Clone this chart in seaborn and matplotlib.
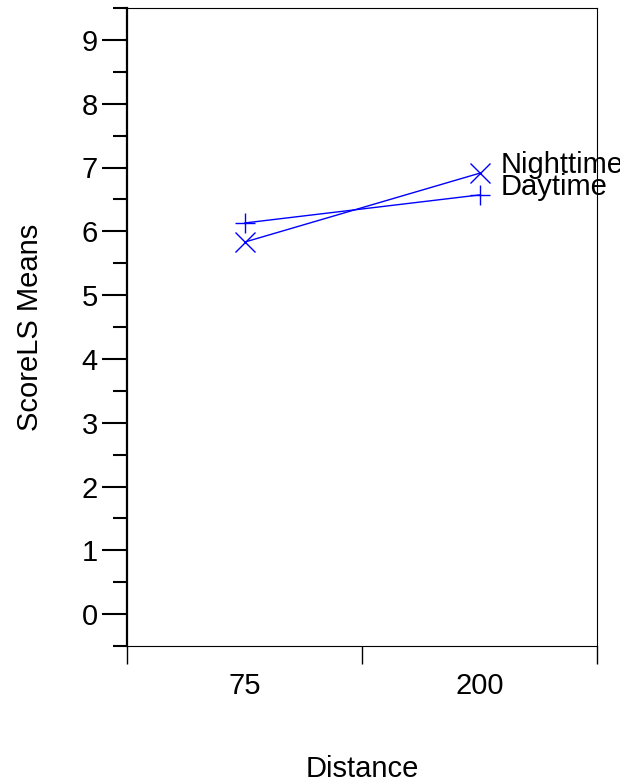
import pandas as pd
import matplotlib
matplotlib.use("Agg")
import matplotlib.pyplot as plt
import seaborn as sns
from matplotlib.ticker import FixedLocator, MultipleLocator

distance = ["75", "200"]
daytime = [6.13, 6.57]
nighttime = [5.83, 6.91]

rows = []
for i, d in enumerate(distance):
    rows.append({"pos": i, "Distance": d, "mean": daytime[i], "group": "Daytime"})
    rows.append({"pos": i, "Distance": d, "mean": nighttime[i], "group": "Nighttime"})
data = pd.DataFrame(rows)

sns.set_style("ticks")
plt.rcParams["font.family"] = ["Liberation Sans", "DejaVu Sans"]
plt.rcParams["text.color"] = "black"
plt.rcParams["axes.labelcolor"] = "black"
plt.rcParams["xtick.color"] = "black"
plt.rcParams["ytick.color"] = "black"

fig = plt.figure(figsize=(6.2, 7.82), dpi=100)
ax = fig.add_axes([127 / 620, 136 / 782, 470 / 620, 638 / 782])

sns.lineplot(data=data, x="pos", y="mean", hue="group", style="group",
             palette={"Daytime": "#0000ff", "Nighttime": "#0000ff"},
             markers={"Daytime": "+", "Nighttime": "x"}, dashes=False,
             markersize=14, markeredgewidth=1, markeredgecolor="#0000ff",
             linewidth=1, legend=False, ax=ax)

# labels at right end of each line
for name, vals in [("Nighttime", nighttime), ("Daytime", daytime)]:
    ax.annotate(name, xy=(1, vals[-1]), xytext=(15, 6), textcoords="offset points",
                fontsize=21, va="center", ha="left", color="black",
                annotation_clip=False)

ax.set_xlim(-0.5, 1.5)
ax.set_ylim(-0.5, 9.5)

ax.xaxis.set_major_locator(FixedLocator([-0.5, 0.5, 1.5]))
ax.xaxis.set_minor_locator(FixedLocator([0, 1]))
ax.set_xticklabels([], minor=False)
ax.set_xticklabels(distance, minor=True)
ax.tick_params(axis="x", which="major", length=13, width=1, direction="out")
ax.tick_params(axis="x", which="minor", length=0, pad=19, labelsize=21)

ax.yaxis.set_major_locator(MultipleLocator(1))
ax.yaxis.set_minor_locator(MultipleLocator(0.5))
ax.tick_params(axis="y", which="major", length=18, width=1.5, labelsize=21, pad=3)
ax.tick_params(axis="y", which="minor", length=10, width=1.5)

for side in ["top", "right", "bottom"]:
    ax.spines[side].set_visible(True)
    ax.spines[side].set_linewidth(0.8)
    ax.spines[side].set_color("black")
ax.spines["left"].set_linewidth(1.6)
ax.spines["left"].set_color("black")

ax.set_xlabel("Distance", fontsize=21, labelpad=39)
ax.set_ylabel("ScoreLS Means", fontsize=21, labelpad=27)

fig.savefig("out.png", dpi=100)
